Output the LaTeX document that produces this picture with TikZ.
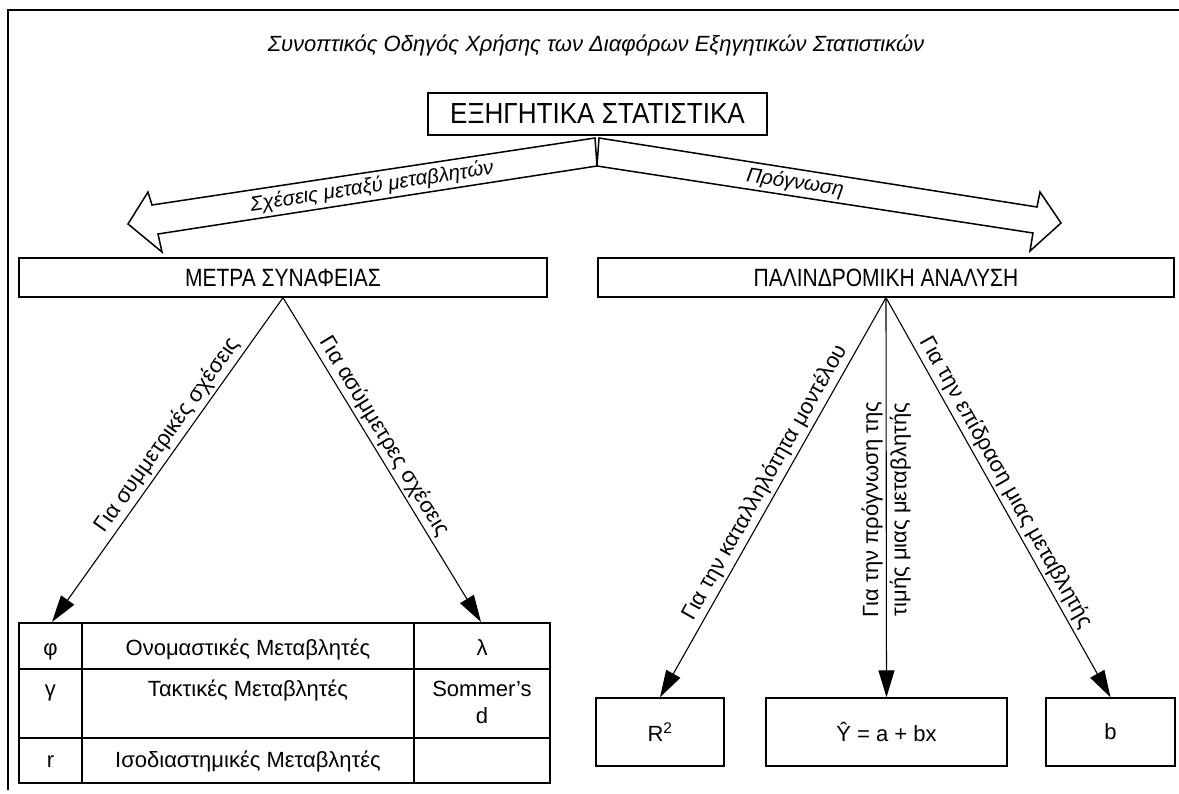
\documentclass[tikz,border=0pt]{standalone}
\usepackage{fontspec}
\setmainfont{Liberation Sans}
\newfontfamily\narrowfont[FakeStretch=0.84]{Liberation Sans}
\newfontfamily\semifont[FakeStretch=0.9]{Liberation Sans}
\usetikzlibrary{arrows.meta}
\begin{document}
\begin{tikzpicture}[x=1pt,y=-1pt,
  box/.style={draw, line width=1.4pt, inner sep=0pt},
  conn/.style={line width=1.1pt, -{Triangle[length=27pt,width=16pt]}},
  lbl/.style={font=\fontsize{22}{24}\selectfont, inner sep=3pt},
  cell/.style={font=\fontsize{22}{27}\selectfont, inner sep=0pt, anchor=base},
  blk/.style={draw, line width=1.5pt, line join=miter, fill=white},
  arrlbl/.style={font=\itshape\fontsize{20.5}{22}\selectfont, inner sep=0pt}
]
\useasboundingbox (0,0) rectangle (1179,794);
% frame
\draw[line width=1.5pt] (8,790) -- (8,10) -- (1179,10);
% title
\node[font=\itshape\fontsize{22}{24}\selectfont] (title) at (596,45)
  {Συνοπτικός Οδηγός Χρήσης των Διαφόρων Εξηγητικών Στατιστικών};
% main boxes
\node[box, minimum width=339pt, minimum height=42pt,
      font=\semifont\fontsize{29}{31}\selectfont] (top) at (597.5,114) {ΕΞΗΓΗΤΙΚΑ ΣΤΑΤΙΣΤΙΚΑ};
\node[box, minimum width=528pt, minimum height=39pt,
      font=\narrowfont\fontsize{25}{27}\selectfont] (msyn) at (283,277.5) {ΜΕΤΡΑ ΣΥΝΑΦΕΙΑΣ};
\node[box, minimum width=576pt, minimum height=39pt,
      font=\narrowfont\fontsize{25}{27}\selectfont] (palin) at (886,277.5) {ΠΑΛΙΝΔΡΟΜΙΚΗ ΑΝΑΛΥΣΗ};
% block arrows
\draw[blk] (595,138) -- (152,205) -- (148,192) -- (128,224) -- (162,252) -- (158,234) -- (597,166) -- cycle;
\draw[blk] (599,138) -- (1037,207) -- (1040,192) -- (1061,223) -- (1030,251) -- (1033,233) -- (597,166) -- cycle;
\node[arrlbl, rotate=8.7] (lblrel) at (372,187) {Σχέσεις μεταξύ μεταβλητών};
\node[arrlbl, rotate=-8.8] (lblpro) at (795,183) {Πρόγνωση};
% bottom boxes
\node[box, minimum width=128pt, minimum height=68pt, font=\fontsize{22}{24}\selectfont] (r2) at (660,732) {R\textsuperscript{2}};
\node[box, minimum width=241pt, minimum height=68pt, font=\fontsize{22}{24}\selectfont] (yhat) at (886.5,732) {Ŷ = a + bx};
\node[box, minimum width=129pt, minimum height=68pt, font=\fontsize{22}{24}\selectfont] (bnode) at (1110.5,732) {b};
% table
\draw[line width=1.4pt] (19,623) rectangle (550,783);
\draw[line width=1.1pt] (82,623) -- (82,783) (414,623) -- (414,783)
  (19,669) -- (550,669) (19,738) -- (550,738);
\node[cell] (phi) at (50.5,655) {φ};
\node[cell] (nom) at (248,655) {Ονομαστικές Μεταβλητές};
\node[cell] (lam) at (482,655) {λ};
\node[cell] (gam) at (50.5,696) {γ};
\node[cell] (ord) at (248,696) {Τακτικές Μεταβλητές};
\node[cell] (som) at (482,696) {Sommer's};
\node[cell] (somd) at (482,723) {d};
\node[cell] (rr) at (50.5,767) {r};
\node[cell] (int) at (248,767) {Ισοδιαστημικές Μεταβλητές};
\coordinate (tabL) at (52,622);
\coordinate (tabR) at (481,622);
% connectors
\draw[conn] (msyn.south) -- node[lbl, sloped, above, pos=0.45] {Για συμμετρικές σχέσεις} (tabL);
\draw[conn] (msyn.south) -- node[lbl, sloped, above, pos=0.45] {Για ασύμμετρες σχέσεις} (tabR);
\draw[conn] (palin.south) -- node[lbl, sloped, above, pos=0.48] {Για την καταλληλότητα μοντέλου} (r2.north);
\draw[conn] (palin.south) -- node[lbl, rotate=90, anchor=south, pos=0.53] {Για την πρόγνωση της}
  node[lbl, rotate=90, anchor=north, pos=0.53] {τιμής μιας μεταβλητής} (yhat.north);
\draw[conn] (palin.south) -- node[lbl, sloped, above, pos=0.48] {Για την επίδραση μιας μεταβλητής} (bnode.north);
\end{tikzpicture}
\end{document}
